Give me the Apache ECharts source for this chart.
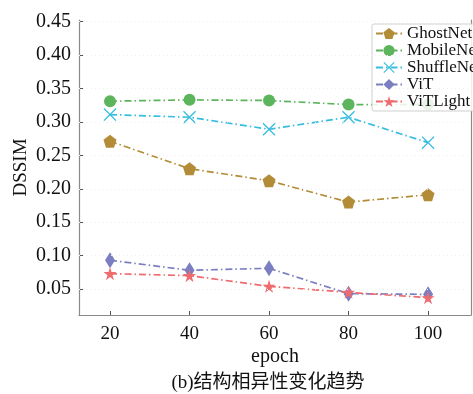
<!DOCTYPE html>
<html>
<head>
<meta charset="utf-8">
<script src="https://cdn.jsdelivr.net/npm/echarts@6/dist/echarts.min.js"></script>
<style>html,body{margin:0;padding:0;background:#fff;}#c{width:473px;height:394px;}</style>
</head>
<body>
<div id="c"></div>
<script>
const epochs = [20, 40, 60, 80, 100];
const ghostnet = [0.271, 0.230, 0.212, 0.180, 0.191];
const mobilenet = [0.331, 0.333, 0.332, 0.326, 0.326];
const shufflenet = [0.311, 0.307, 0.289, 0.307, 0.269];
const vit = [0.093, 0.078, 0.081, 0.043, 0.042];
const vitlight = [0.073, 0.070, 0.054, 0.045, 0.037];
const seriesNames = ['GhostNet', 'MobileNet', 'ShuffleNet', 'ViT', 'ViTLight'];
const yTicks = [0.05, 0.10, 0.15, 0.20, 0.25, 0.30, 0.35, 0.40, 0.45];
const xTicks = [20, 40, 60, 80, 100];
const xTitle = 'epoch';
const yTitle = 'DSSIM';
const caption = '(b)结构相异性变化趋势';

const serif = '"Liberation Serif", "Noto Sans CJK SC", serif';
const pentagon = 'path://M0,-1 L0.951,-0.309 L0.588,0.809 L-0.588,0.809 L-0.951,-0.309 Z';
const xmark = 'path://M-1,-0.86 L-0.86,-1 L0,-0.14 L0.86,-1 L1,-0.86 L0.14,0 L1,0.86 L0.86,1 L0,0.14 L-0.86,1 L-1,0.86 L-0.14,0 Z';
const star = 'path://M0,-1 L0.2245,-0.309 L0.951,-0.309 L0.363,0.118 L0.588,0.809 L0,0.382 L-0.588,0.809 L-0.363,0.118 L-0.951,-0.309 L-0.2245,-0.309 Z';

const styles = [
  {color: '#b38c38', symbol: pentagon, size: 13},
  {color: '#5cb55c', symbol: 'circle', size: 12},
  {color: '#36bde0', symbol: xmark, size: 13},
  {color: '#7b7fc1', symbol: 'diamond', size: [10, 16]},
  {color: '#ee6b6e', symbol: star, size: 13}
];
const values = [ghostnet, mobilenet, shufflenet, vit, vitlight];

const series = seriesNames.map((name, i) => ({
  name: name,
  type: 'line',
  data: epochs.map((e, j) => [e, values[i][j]]),
  symbol: styles[i].symbol,
  symbolSize: styles[i].size,
  showAllSymbol: true,
  itemStyle: {color: styles[i].color, opacity: 1},
  lineStyle: {color: styles[i].color, width: 1.7, type: [7, 3, 1.5, 3]},
  emphasis: {disabled: true},
  animation: false,
  z: 3
}));
series.push({
  type: 'line',
  data: [],
  silent: true,
  markLine: {
    silent: true,
    symbol: 'none',
    label: {show: false},
    lineStyle: {color: '#f0f0f0', type: [1, 3], width: 1},
    data: yTicks.map(v => ({yAxis: v}))
  },
  z: 1
});

const chart = echarts.init(document.getElementById('c'), null, {renderer: 'canvas'});
chart.setOption({
  backgroundColor: '#fff',
  animation: false,
  grid: {left: 79, right: 2, top: 20, bottom: 79, containLabel: false},
  legend: {
    data: seriesNames,
    left: 372, top: 24,
    orient: 'vertical',
    itemWidth: 26, itemHeight: 14, itemGap: 0,
    padding: [1, 4, 1, 3],
    backgroundColor: 'rgba(255,255,255,0.85)',
    borderColor: '#cfcfcf', borderWidth: 1, borderRadius: 2,
    textStyle: {fontFamily: serif, fontSize: 17, color: '#111', lineHeight: 16},
    selectedMode: false
  },
  xAxis: {
    type: 'value', min: 12.2, max: 110.8,
    name: xTitle, nameLocation: 'middle', nameGap: 32, nameMoveOverlap: false,
    nameTextStyle: {fontFamily: serif, fontSize: 20, color: '#111'},
    axisLine: {show: true, lineStyle: {color: '#8a8a8a', width: 1.2}},
    axisTick: {show: true, inside: true, length: 4, customValues: xTicks, lineStyle: {color: '#555'}},
    axisLabel: {customValues: xTicks, fontFamily: serif, fontSize: 19, color: '#111', margin: 10},
    splitLine: {show: false}
  },
  yAxis: [{
    type: 'value', min: 0.0111, max: 0.4525,
    name: yTitle, nameLocation: 'middle', nameGap: 48, nameRotate: 90, nameMoveOverlap: false,
    nameTextStyle: {fontFamily: serif, fontSize: 19, color: '#111'},
    axisLine: {show: true, lineStyle: {color: '#8a8a8a', width: 1.2}},
    axisTick: {show: true, inside: true, length: 4, customValues: yTicks, lineStyle: {color: '#555'}},
    axisLabel: {customValues: yTicks, fontFamily: serif, fontSize: 20, color: '#111', margin: 8,
      formatter: v => v.toFixed(2)},
    splitLine: {show: false}
  }, {
    type: 'value', min: 0.0111, max: 0.4525, position: 'right',
    axisLine: {show: true, lineStyle: {color: '#8a8a8a', width: 1.2}},
    axisTick: {show: false}, axisLabel: {show: false}, splitLine: {show: false}
  }],
  series: series,
  graphic: [{
    type: 'text', x: 268, y: 383,
    style: {text: caption, font: '19px "Liberation Serif", "Noto Sans CJK SC", serif', fill: '#111',
      textAlign: 'center', textVerticalAlign: 'middle'}
  }]
});
</script>
</body>
</html>
